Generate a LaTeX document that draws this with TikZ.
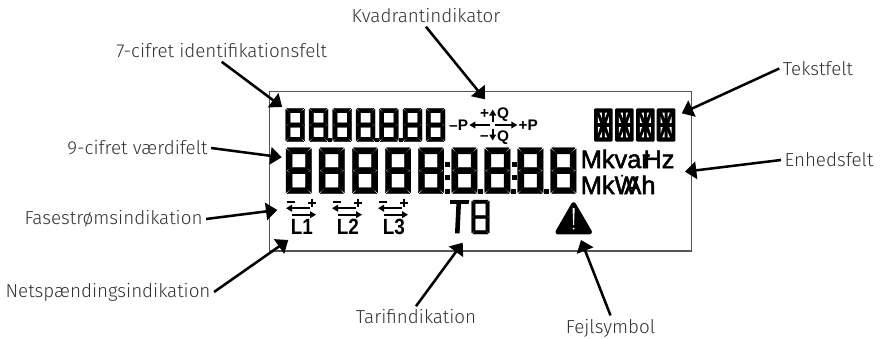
\documentclass[tikz,border=0pt]{standalone}
\usepackage{fontspec}
\setmainfont{Fira Sans}[UprightFont=* Light]
\newfontfamily\lcdfont{Liberation Sans}[FakeBold=2]
\newfontfamily\lcdbold{Liberation Sans Bold}
\usetikzlibrary{arrows.meta}

\definecolor{lcdblack}{RGB}{0,0,0}
\definecolor{framegray}{RGB}{85,85,85}
\definecolor{labelgray}{RGB}{50,50,50}

\tikzset{
  lbl/.style={inner sep=2.5pt,text=labelgray,font=\fontsize{14.1}{16}\selectfont},
  pointer/.style={line width=1.9pt,draw=black,-{Triangle[length=8.5pt,width=13pt]}},
  lcdtext/.style={inner sep=0pt,text=lcdblack},
  quadtext/.style={lcdtext,font=\fontsize{11.5}{12}\lcdbold},
  tinyarrow/.style={line width=1.3pt,draw=lcdblack,-{Triangle[length=4.5pt,width=5pt]}},
  segment/.style={fill=lcdblack,draw=lcdblack,line width=.25pt,line join=round}
}

% seven segments: x, y, width, height, stroke
\newcommand{\segdigit}[5]{%
\begin{scope}[shift={(#1,#2)}]
\def\sw{#3}\def\sh{#4}\def\st{#5}\pgfmathsetmacro{\sm}{#4/2}
\path[segment] (1,0) -- (\sw-1,0) -- (\sw-\st,\st) -- (\st,\st) -- cycle;
\path[segment] (1,\sh) -- (\sw-1,\sh) -- (\sw-\st,\sh-\st) -- (\st,\sh-\st) -- cycle;
\path[segment] (\st*.3,\sm) -- (\st,\sm-\st/2) -- (\sw-\st,\sm-\st/2) -- (\sw-\st*.3,\sm) -- (\sw-\st,\sm+\st/2) -- (\st,\sm+\st/2) -- cycle;
\path[segment] (0,1) -- (\st,\st) -- (\st,\sm-\st/2) -- (0,\sm) -- cycle;
\path[segment] (\sw,1) -- (\sw-\st,\st) -- (\sw-\st,\sm-\st/2) -- (\sw,\sm) -- cycle;
\path[segment] (0,\sh-1) -- (\st,\sh-\st) -- (\st,\sm+\st/2) -- (0,\sm) -- cycle;
\path[segment] (\sw,\sh-1) -- (\sw-\st,\sh-\st) -- (\sw-\st,\sm+\st/2) -- (\sw,\sm) -- cycle;
\end{scope}}

% text block with the slits of a 14 segment digit
\newcommand{\alphablock}[2]{%
\begin{scope}[shift={(#1,#2)}]
\fill[lcdblack,rounded corners=1pt] (0,0) rectangle (18.7,33.4);
\foreach \sx/\ox in {1/0,-1/18.7}{
\fill[white,shift={(\ox,0)},xscale=\sx] (3.8,8) -- (3.8,14.6) -- (6,14.6) -- cycle;
\fill[white,shift={(\ox,0)},xscale=\sx] (5.6,4.4) -- (7.9,4.4) -- (7.9,10) -- cycle;
\fill[white,shift={(\ox,0)},xscale=\sx] (3.8,25.4) -- (3.8,18.8) -- (6,18.8) -- cycle;
\fill[white,shift={(\ox,0)},xscale=\sx] (5.6,29) -- (7.9,29) -- (7.9,23.4) -- cycle;
}
\end{scope}}

% current direction arrows above a phase
\newcommand{\phasemark}[2]{%
\begin{scope}[shift={(#1,0)}]
\fill[lcdblack] (286.7,201) rectangle (295,203);
\fill[lcdblack] (308.3,201.7) rectangle (316.3,203.7);
\fill[lcdblack] (311.3,198.7) rectangle (313.3,206.7);
\draw[tinyarrow] (310,208.2) -- (286,208.2);
\draw[tinyarrow] (291.7,214.7) -- (316,214.7);
\node[lcdtext,anchor=base west,xscale=.86,font=\fontsize{16.5}{16}\lcdbold] (#2) at (290.6,234) {#2};
\end{scope}}

\begin{document}
\begin{tikzpicture}[x=0.75pt,y=0.75pt,yscale=-1,xscale=1]
\useasboundingbox (0,0) rectangle (882,339);

%display frame
\draw[framegray,line width=1.1pt] (269.5,91.5) rectangle (691.5,251);

%identification field
\foreach \dx in {285.7,309,332.7,356,379.3,403,426}{
\segdigit{\dx}{108.3}{19}{33.4}{4.5}
}
\foreach \dx in {328.4,375.2,398.6}{
\fill[lcdblack] (\dx,138) rectangle (\dx+4,142);
}

%value field
\foreach \dx in {286,319,352.3,385.3,418.3,451.7,484.7,517.7,550.7}{
\segdigit{\dx}{147.7}{25.5}{46}{6.2}
}
\foreach \dx in {444.6,477.6,510.8,543.8}{
\fill[lcdblack] (\dx,188.7) rectangle (\dx+5.4,194);
}
\foreach \dx in {445,511.6}{
\fill[lcdblack] (\dx,161.7) rectangle (\dx+5,167);
\fill[lcdblack] (\dx,174.5) rectangle (\dx+5,179.8);
}

%quadrant indicator
\node[quadtext] (minusP) at (458.6,125) {–P};
\node[quadtext] (plusP) at (528.3,125) {+P};
\node[quadtext] (plusQ) at (484.5,114) {+};
\node[quadtext] (minusQ) at (484.5,137.7) {–};
\node[quadtext] (upQ) at (503,115) {Q};
\node[quadtext] (downQ) at (503,137.7) {Q};
\draw[tinyarrow] (490,125) -- (469.3,125);
\draw[tinyarrow] (495,125) -- (517.3,125);
\draw[tinyarrow] (492.7,121.5) -- (492.7,109.5);
\draw[tinyarrow] (492.7,128.5) -- (492.7,140.5);

%text field
\foreach \dx in {594,615,636,656.7}{
\alphablock{\dx}{108.3}
}

%units
\node[lcdtext,anchor=base west,font=\fontsize{19}{20}\lcdfont] (unitvar) at (580.5,168) {Mkvar};
\node[lcdtext,anchor=base east,font=\fontsize{19}{20}\lcdfont] (unitHz) at (674.7,168) {Hz};
\node[lcdtext,anchor=base west,font=\fontsize{19}{20}\lcdfont] (unitW) at (580.5,194) {MkW};
\node[lcdtext,anchor=base east,font=\fontsize{19}{20}\lcdfont] (unitAh) at (655.7,194) {Ah};
\fill[lcdblack] (631.7,191.7) circle (1.8);
\fill[lcdblack] (622,175.7) circle (1.2);

%phases
\phasemark{0}{L1}
\phasemark{46}{L2}
\phasemark{92}{L3}

%tariff
\fill[lcdblack] (450,200) -- (469.3,200) -- (468.6,203.8) -- (461,203.8) -- (459.6,233.4) -- (455,233.4) -- (456.4,203.8) -- (450,203.8) -- cycle;
\segdigit{471.7}{200}{17.6}{34}{3.4}

%warning symbol
\fill[lcdblack,draw=lcdblack,line width=2pt,line join=round,rounded corners=1.5pt] (573.6,202.5) -- (591.4,233) -- (556,233) -- cycle;
\fill[white] (572.5,208) -- (574.7,208) -- (574,225) -- (573.2,225) -- cycle;
\fill[white] (573.6,228.6) circle (1.1);

%labels
\node[lbl] (kvadrant) at (426,16) {Kvadrantindikator};
\node[lbl] (identifikation) at (221.7,51) {7-cifret identifikationsfelt};
\node[lbl] (vaerdi) at (137.5,148) {9-cifret værdifelt};
\node[lbl] (fasestrom) at (113.5,219) {Fasestrømsindikation};
\node[lbl] (netspaending) at (108,292) {Netspændingsindikation};
\node[lbl] (tarif) at (416,317) {Tarifindikation};
\node[lbl] (fejl) at (610.5,328) {Fejlsymbol};
\node[lbl] (tekst) at (818,68.5) {Tekstfelt};
\node[lbl] (enheds) at (829,160) {Enhedsfelt};

%pointers
\coordinate (kvadrantTip) at (485,99.3);
\coordinate (identifikationTip) at (282.2,107);
\coordinate (vaerdiTip) at (281.7,157.3);
\coordinate (fasestromTip) at (277.3,210);
\coordinate (netspaendingTip) at (288.3,240);
\coordinate (tarifTip) at (462.7,242.7);
\coordinate (fejlTip) at (581,240);
\coordinate (tekstTip) at (681.7,113.3);
\coordinate (enhedsTip) at (685,171.7);
\draw[pointer] (kvadrant.south) -- (kvadrantTip);
\draw[pointer] (identifikation.south) -- (identifikationTip);
\draw[pointer] (vaerdi.east) -- (vaerdiTip);
\draw[pointer] (fasestrom.east) -- (fasestromTip);
\draw[pointer] (netspaending.east) -- (netspaendingTip);
\draw[pointer] (tarif.north) -- (tarifTip);
\draw[pointer] (fejl.north) -- (fejlTip);
\draw[pointer] (tekst.west) -- (tekstTip);
\draw[pointer] (enheds.west) -- (enhedsTip);
\end{tikzpicture}
\end{document}
